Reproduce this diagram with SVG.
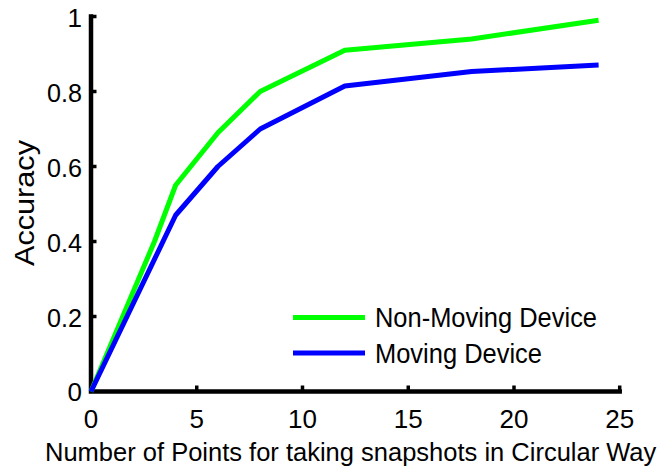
<svg xmlns="http://www.w3.org/2000/svg" width="668" height="476" viewBox="0 0 668 476">
  <style>
    text { font-family: "Liberation Sans", Arial, Helvetica, sans-serif; font-size: 26px; fill: #000; }
    .ytick { text-anchor: end; }
    .xtick { text-anchor: middle; }
    .big { font-size: 27px; }
    .axis { stroke: #000; stroke-width: 4.5; fill: none; stroke-linecap: square; }
    .tick { stroke: #000; stroke-width: 3.5; }
    .series { fill: none; stroke-width: 5; stroke-linejoin: round; stroke-linecap: butt; }
    .green { stroke: #00ff00; }
    .blue { stroke: #0000ff; }
  </style>
  <rect width="668" height="476" fill="#fff"/>

  <!-- axes: x = 91 + 21.15*n, y = 391.5 - 375*acc -->
  <g id="axes">
    <path class="axis" d="M91,16.5 V391.5 H619.7"/>
    <g class="tick">
      <line x1="91" y1="16.5" x2="96.5" y2="16.5"/>
      <line x1="91" y1="91.5" x2="96.5" y2="91.5"/>
      <line x1="91" y1="166.5" x2="96.5" y2="166.5"/>
      <line x1="91" y1="241.5" x2="96.5" y2="241.5"/>
      <line x1="91" y1="316.5" x2="96.5" y2="316.5"/>
      <line x1="196.75" y1="391.5" x2="196.75" y2="385.5"/>
      <line x1="302.5" y1="391.5" x2="302.5" y2="385.5"/>
      <line x1="408.25" y1="391.5" x2="408.25" y2="385.5"/>
      <line x1="514" y1="391.5" x2="514" y2="385.5"/>
      <line x1="619.7" y1="391.5" x2="619.7" y2="385.5"/>
    </g>
    <g id="y-labels">
      <text class="ytick" x="82" y="27">1</text>
      <text class="ytick" x="82" y="102" textLength="35" lengthAdjust="spacingAndGlyphs">0.8</text>
      <text class="ytick" x="82" y="177" textLength="35" lengthAdjust="spacingAndGlyphs">0.6</text>
      <text class="ytick" x="82" y="252" textLength="35" lengthAdjust="spacingAndGlyphs">0.4</text>
      <text class="ytick" x="82" y="327" textLength="35" lengthAdjust="spacingAndGlyphs">0.2</text>
      <text class="ytick" x="82" y="401">0</text>
    </g>
    <g id="x-labels">
      <text class="xtick" x="91" y="428">0</text>
      <text class="xtick" x="196.75" y="428">5</text>
      <text class="xtick" x="302.5" y="428">10</text>
      <text class="xtick" x="408.25" y="428">15</text>
      <text class="xtick" x="514" y="428">20</text>
      <text class="xtick" x="619.7" y="428">25</text>
    </g>
    <text id="x-title" x="45" y="461" style="font-size:25.5px">Number of Points for taking snapshots in Circular Way</text>
    <text id="y-title" class="big" transform="translate(33.5,203) rotate(-90)" x="-63" y="0" textLength="126" lengthAdjust="spacingAndGlyphs">Accuracy</text>
  </g>

  <!-- data series -->
  <g id="series">
    <polyline id="non-moving" class="series green" points="91,391.5 154.45,241.5 175.6,185.25 217.9,132.75 260.2,91.5 344.8,50.25 471.7,39 598.6,20.25"/>
    <polyline id="moving" class="series blue" points="91,391.5 175.6,215.25 217.9,166.5 260.2,129 344.8,85.9 471.7,71.6 598.6,64.9"/>
  </g>

  <!-- legend -->
  <g id="legend">
    <line class="series green" x1="293" y1="317.5" x2="365" y2="317.5"/>
    <text class="big" x="375" y="327" textLength="222" lengthAdjust="spacingAndGlyphs">Non-Moving Device</text>
    <line class="series blue" x1="293" y1="353" x2="365" y2="353"/>
    <text class="big" x="375" y="363" textLength="167" lengthAdjust="spacingAndGlyphs">Moving Device</text>
  </g>
</svg>
